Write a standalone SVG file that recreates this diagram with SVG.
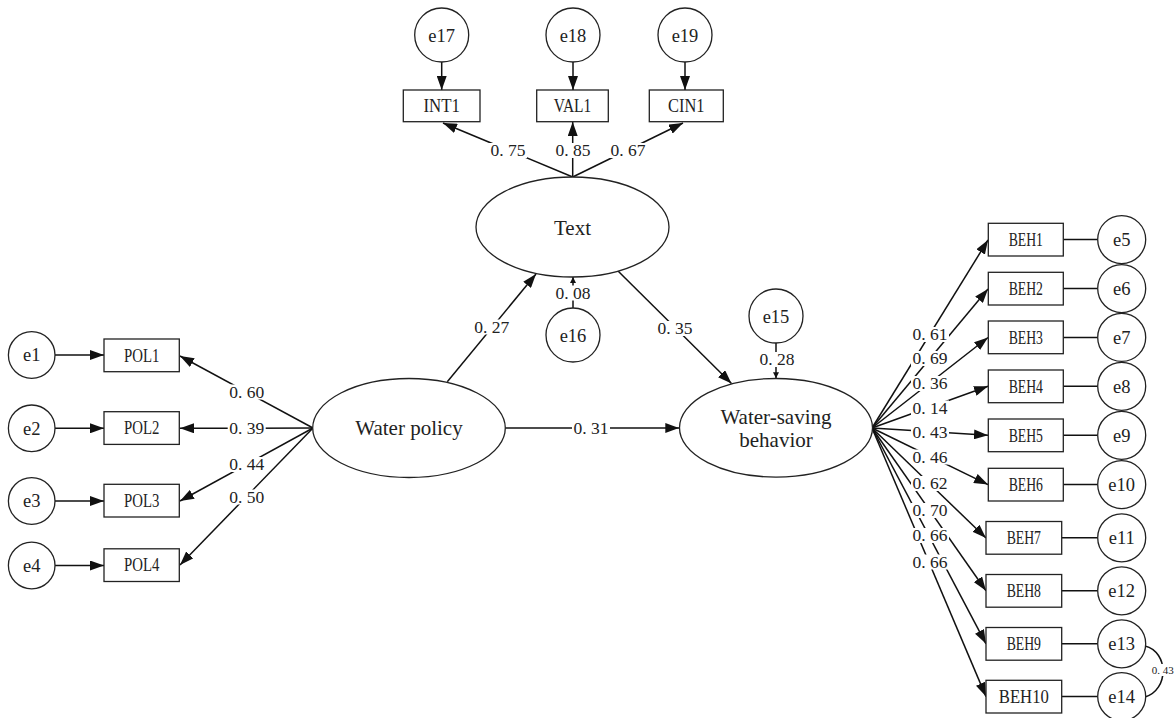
<svg xmlns="http://www.w3.org/2000/svg" width="1176" height="718" viewBox="0 0 1176 718">
<defs>
<marker id="ah" markerWidth="14" markerHeight="10" refX="14" refY="5" orient="auto" markerUnits="userSpaceOnUse"><path d="M0,0 L14,5 L0,10 z" fill="#111"/></marker>
<marker id="ahs" markerWidth="6" markerHeight="6" refX="6" refY="3" orient="auto" markerUnits="userSpaceOnUse"><path d="M0,0 L6,3 L0,6 z" fill="#111"/></marker>
<style>
.bg{fill:#fff}
.sh{fill:#fff;stroke:#222;stroke-width:1.3}
.ln{stroke:#111;stroke-width:1.5;fill:none}
.ar{stroke:#111;stroke-width:1.5;fill:none;marker-end:url(#ah)}
.as{stroke:#111;stroke-width:1.5;fill:none;marker-end:url(#ahs)}
.lat{font-family:"Liberation Serif",serif;font-size:21px;fill:#222;text-anchor:middle}
.box{font-family:"Liberation Serif",serif;font-size:18px;fill:#222;text-anchor:middle}
.err{font-family:"Liberation Serif",serif;font-size:18.5px;fill:#222;text-anchor:middle}
.num{font-family:"Liberation Serif",serif;font-size:17.5px;fill:#222;text-anchor:middle}
.lb{fill:#fff}
.sm{font-family:"Liberation Serif",serif;font-size:11px;fill:#222;text-anchor:middle}
</style>
</defs>
<rect class="bg" x="0" y="0" width="1176" height="718"/>

<g id="connectors">
<line class="ar" x1="441.7" y1="62" x2="441.7" y2="90"/>
<line class="ar" x1="573" y1="62" x2="573" y2="90"/>
<line class="ar" x1="685" y1="62" x2="685" y2="90"/>
<line class="ar" x1="572.7" y1="177" x2="443" y2="123"/>
<line class="ar" x1="572.7" y1="177" x2="572.7" y2="122"/>
<line class="ar" x1="572.7" y1="177" x2="683" y2="123"/>
<line class="ar" x1="447.3" y1="381.7" x2="536" y2="274"/>
<line class="ar" x1="618" y1="271" x2="731.5" y2="383.5"/>
<line class="ar" x1="505.3" y1="428" x2="679.3" y2="428"/>
<line class="as" x1="573" y1="308" x2="573" y2="277"/>
<line class="as" x1="776" y1="343" x2="776" y2="378.3"/>
<line class="ar" x1="55" y1="355" x2="104" y2="355"/>
<line class="ar" x1="55" y1="428.3" x2="104" y2="428.3"/>
<line class="ar" x1="55" y1="501" x2="104" y2="501"/>
<line class="ar" x1="55" y1="565.5" x2="104" y2="565.5"/>
<line class="ar" x1="313" y1="428" x2="180" y2="356"/>
<line class="ar" x1="313" y1="428" x2="180" y2="428.3"/>
<line class="ar" x1="313" y1="428" x2="180" y2="501"/>
<line class="ar" x1="313" y1="428" x2="180" y2="565"/>
<line class="ar" x1="872" y1="428" x2="988" y2="240"/>
<line class="ar" x1="872" y1="428" x2="988" y2="289"/>
<line class="ar" x1="872" y1="428" x2="988" y2="337.5"/>
<line class="ar" x1="872" y1="428" x2="988" y2="386.3"/>
<line class="ar" x1="872" y1="428" x2="988" y2="435.3"/>
<line class="ar" x1="872" y1="428" x2="988" y2="484.6"/>
<line class="ar" x1="872" y1="428" x2="986" y2="538"/>
<line class="ar" x1="872" y1="428" x2="986" y2="590.8"/>
<line class="ar" x1="872" y1="428" x2="986" y2="643.8"/>
<line class="ar" x1="872" y1="428" x2="986" y2="696.6"/>
<line class="ln" x1="1063.3" y1="239.6" x2="1097.7" y2="239.6"/>
<line class="ln" x1="1063.3" y1="288.6" x2="1097.7" y2="288.6"/>
<line class="ln" x1="1063.3" y1="337.4" x2="1097.7" y2="337.4"/>
<line class="ln" x1="1063.3" y1="386.3" x2="1097.7" y2="386.3"/>
<line class="ln" x1="1063.3" y1="435.3" x2="1097.7" y2="435.3"/>
<line class="ln" x1="1063.3" y1="484.6" x2="1097.7" y2="484.6"/>
<line class="ln" x1="1061.7" y1="537.8" x2="1097.7" y2="537.8"/>
<line class="ln" x1="1061.7" y1="590.8" x2="1097.7" y2="590.8"/>
<line class="ln" x1="1061.7" y1="643.8" x2="1097.7" y2="643.8"/>
<line class="ln" x1="1061.7" y1="696.6" x2="1097.7" y2="696.6"/>
<path class="ln" d="M1145,646 C1169,652 1169,690 1145,697"/>
</g>

<g id="labels">
<rect class="lb" x="489" y="143" width="38" height="15"/><text class="num" x="508" y="156">0. 75</text>
<rect class="lb" x="554" y="143" width="38" height="15"/><text class="num" x="573" y="156">0. 85</text>
<rect class="lb" x="609" y="143" width="38" height="15"/><text class="num" x="628" y="156">0. 67</text>
<rect class="lb" x="472.7" y="319.5" width="38" height="15"/><text class="num" x="491.7" y="332.5">0. 27</text>
<rect class="lb" x="554" y="285.5" width="38" height="15"/><text class="num" x="573" y="298.5">0. 08</text>
<rect class="lb" x="656" y="321" width="38" height="15"/><text class="num" x="675" y="334">0. 35</text>
<rect class="lb" x="758" y="352" width="38" height="15"/><text class="num" x="777" y="365">0. 28</text>
<rect class="lb" x="572" y="421" width="38" height="15"/><text class="num" x="591" y="434">0. 31</text>
<rect class="lb" x="227.7" y="384.5" width="38" height="15"/><text class="num" x="246.7" y="397.5">0. 60</text>
<rect class="lb" x="227.7" y="421" width="38" height="15"/><text class="num" x="246.7" y="434">0. 39</text>
<rect class="lb" x="227.7" y="457" width="38" height="15"/><text class="num" x="246.7" y="470">0. 44</text>
<rect class="lb" x="227.7" y="489.5" width="38" height="15"/><text class="num" x="246.7" y="502.5">0. 50</text>
<rect class="lb" x="911" y="327" width="38" height="15"/><text class="num" x="930" y="340">0. 61</text>
<rect class="lb" x="911" y="351" width="38" height="15"/><text class="num" x="930" y="364">0. 69</text>
<rect class="lb" x="911" y="376" width="38" height="15"/><text class="num" x="930" y="389">0. 36</text>
<rect class="lb" x="911" y="400.5" width="38" height="15"/><text class="num" x="930" y="413.5">0. 14</text>
<rect class="lb" x="911" y="424.5" width="38" height="15"/><text class="num" x="930" y="437.5">0. 43</text>
<rect class="lb" x="911" y="449.5" width="38" height="15"/><text class="num" x="930" y="462.5">0. 46</text>
<rect class="lb" x="911" y="476" width="38" height="15"/><text class="num" x="930" y="489">0. 62</text>
<rect class="lb" x="911" y="503" width="38" height="15"/><text class="num" x="930" y="516">0. 70</text>
<rect class="lb" x="911" y="528" width="38" height="15"/><text class="num" x="930" y="541">0. 66</text>
<rect class="lb" x="911" y="554.5" width="38" height="15"/><text class="num" x="930" y="567.5">0. 66</text>
<rect class="lb" x="1150" y="664" width="26" height="12"/><text class="sm" x="1162.7" y="674">0. 43</text>
</g>

<g id="Text"><ellipse class="sh" cx="572.5" cy="227" rx="96.5" ry="50"/><text class="lat" x="572.5" y="235">Text</text></g>
<g id="WaterPolicy"><ellipse class="sh" cx="409" cy="428" rx="96.3" ry="49.5"/><text class="lat" x="409" y="435">Water policy</text></g>
<g id="WaterSaving"><ellipse class="sh" cx="776" cy="427.8" rx="96.5" ry="49.3"/><text class="lat" x="776" y="423.5">Water-saving</text><text class="lat" x="776" y="446.7">behavior</text></g>

<g id="e17"><circle class="sh" cx="441.7" cy="35" r="27"/><text class="err" x="441.7" y="41.5">e17</text></g>
<g id="e18"><circle class="sh" cx="573" cy="35" r="27"/><text class="err" x="573" y="41.5">e18</text></g>
<g id="e19"><circle class="sh" cx="685" cy="35" r="27"/><text class="err" x="685" y="41.5">e19</text></g>
<g id="INT1"><rect class="sh" x="403.3" y="90" width="76.7" height="31.7"/><text class="box" x="441.7" y="112" textLength="36.5" lengthAdjust="spacingAndGlyphs">INT1</text></g>
<g id="VAL1"><rect class="sh" x="536.7" y="90" width="71.6" height="31.7"/><text class="box" x="572.5" y="112" textLength="37.5" lengthAdjust="spacingAndGlyphs">VAL1</text></g>
<g id="CIN1"><rect class="sh" x="649.3" y="90" width="74" height="31.7"/><text class="box" x="686.3" y="112" textLength="36.5" lengthAdjust="spacingAndGlyphs">CIN1</text></g>
<g id="e16"><circle class="sh" cx="573" cy="335" r="27"/><text class="err" x="573" y="341.5">e16</text></g>
<g id="e15"><circle class="sh" cx="776" cy="316" r="27"/><text class="err" x="776" y="322.5">e15</text></g>

<g id="e1"><circle class="sh" cx="31.7" cy="355" r="23.3"/><text class="err" x="31.7" y="361.3">e1</text></g>
<g id="e2"><circle class="sh" cx="31.7" cy="428.3" r="23.3"/><text class="err" x="31.7" y="434.6">e2</text></g>
<g id="e3"><circle class="sh" cx="31.7" cy="501" r="23.3"/><text class="err" x="31.7" y="507.3">e3</text></g>
<g id="e4"><circle class="sh" cx="31.7" cy="565.5" r="23.3"/><text class="err" x="31.7" y="571.8">e4</text></g>
<g id="POL1"><rect class="sh" x="104" y="339" width="75.3" height="32.7"/><text class="box" x="141.7" y="361.5" textLength="35.3" lengthAdjust="spacingAndGlyphs">POL1</text></g>
<g id="POL2"><rect class="sh" x="104" y="411.7" width="75.3" height="32.7"/><text class="box" x="141.7" y="434.2" textLength="35.3" lengthAdjust="spacingAndGlyphs">POL2</text></g>
<g id="POL3"><rect class="sh" x="104" y="484.3" width="75.3" height="32.7"/><text class="box" x="141.7" y="506.8" textLength="35.3" lengthAdjust="spacingAndGlyphs">POL3</text></g>
<g id="POL4"><rect class="sh" x="104" y="548.8" width="75.3" height="32.7"/><text class="box" x="141.7" y="571.3" textLength="35.3" lengthAdjust="spacingAndGlyphs">POL4</text></g>

<g id="BEH1"><rect class="sh" x="988.3" y="223.3" width="75" height="32.7"/><text class="box" x="1025.8" y="245.8" textLength="34.3" lengthAdjust="spacingAndGlyphs">BEH1</text></g>
<g id="BEH2"><rect class="sh" x="988.3" y="272.3" width="75" height="32.7"/><text class="box" x="1025.8" y="294.8" textLength="34.3" lengthAdjust="spacingAndGlyphs">BEH2</text></g>
<g id="BEH3"><rect class="sh" x="988.3" y="321" width="75" height="32.7"/><text class="box" x="1025.8" y="343.5" textLength="34.3" lengthAdjust="spacingAndGlyphs">BEH3</text></g>
<g id="BEH4"><rect class="sh" x="988.3" y="370" width="75" height="32.7"/><text class="box" x="1025.8" y="392.5" textLength="34.3" lengthAdjust="spacingAndGlyphs">BEH4</text></g>
<g id="BEH5"><rect class="sh" x="988.3" y="419" width="75" height="32.7"/><text class="box" x="1025.8" y="441.5" textLength="34.3" lengthAdjust="spacingAndGlyphs">BEH5</text></g>
<g id="BEH6"><rect class="sh" x="988.3" y="468.3" width="75" height="32.7"/><text class="box" x="1025.8" y="490.8" textLength="34.3" lengthAdjust="spacingAndGlyphs">BEH6</text></g>
<g id="BEH7"><rect class="sh" x="986" y="521.5" width="75.7" height="32.7"/><text class="box" x="1023.8" y="544" textLength="34.3" lengthAdjust="spacingAndGlyphs">BEH7</text></g>
<g id="BEH8"><rect class="sh" x="986" y="574.5" width="75.7" height="32.7"/><text class="box" x="1023.8" y="597" textLength="34.3" lengthAdjust="spacingAndGlyphs">BEH8</text></g>
<g id="BEH9"><rect class="sh" x="986" y="627.5" width="75.7" height="32.7"/><text class="box" x="1023.8" y="650" textLength="34.3" lengthAdjust="spacingAndGlyphs">BEH9</text></g>
<g id="BEH10"><rect class="sh" x="986" y="680.3" width="75.7" height="32.7"/><text class="box" x="1023.8" y="702.8" textLength="50" lengthAdjust="spacingAndGlyphs">BEH10</text></g>

<g id="e5"><circle class="sh" cx="1121.7" cy="239.6" r="24"/><text class="err" x="1121.7" y="245.9">e5</text></g>
<g id="e6"><circle class="sh" cx="1121.7" cy="288.6" r="24"/><text class="err" x="1121.7" y="294.9">e6</text></g>
<g id="e7"><circle class="sh" cx="1121.7" cy="337.4" r="24"/><text class="err" x="1121.7" y="343.7">e7</text></g>
<g id="e8"><circle class="sh" cx="1121.7" cy="386.3" r="24"/><text class="err" x="1121.7" y="392.6">e8</text></g>
<g id="e9"><circle class="sh" cx="1121.7" cy="435.3" r="24"/><text class="err" x="1121.7" y="441.6">e9</text></g>
<g id="e10"><circle class="sh" cx="1121.7" cy="484.6" r="24"/><text class="err" x="1121.7" y="490.9">e10</text></g>
<g id="e11"><circle class="sh" cx="1121.7" cy="537.8" r="24"/><text class="err" x="1121.7" y="544.1">e11</text></g>
<g id="e12"><circle class="sh" cx="1121.7" cy="590.8" r="24"/><text class="err" x="1121.7" y="597.1">e12</text></g>
<g id="e13"><circle class="sh" cx="1121.7" cy="643.8" r="24"/><text class="err" x="1121.7" y="650.1">e13</text></g>
<g id="e14"><circle class="sh" cx="1121.7" cy="696.6" r="24"/><text class="err" x="1121.7" y="702.9">e14</text></g>
</svg>
